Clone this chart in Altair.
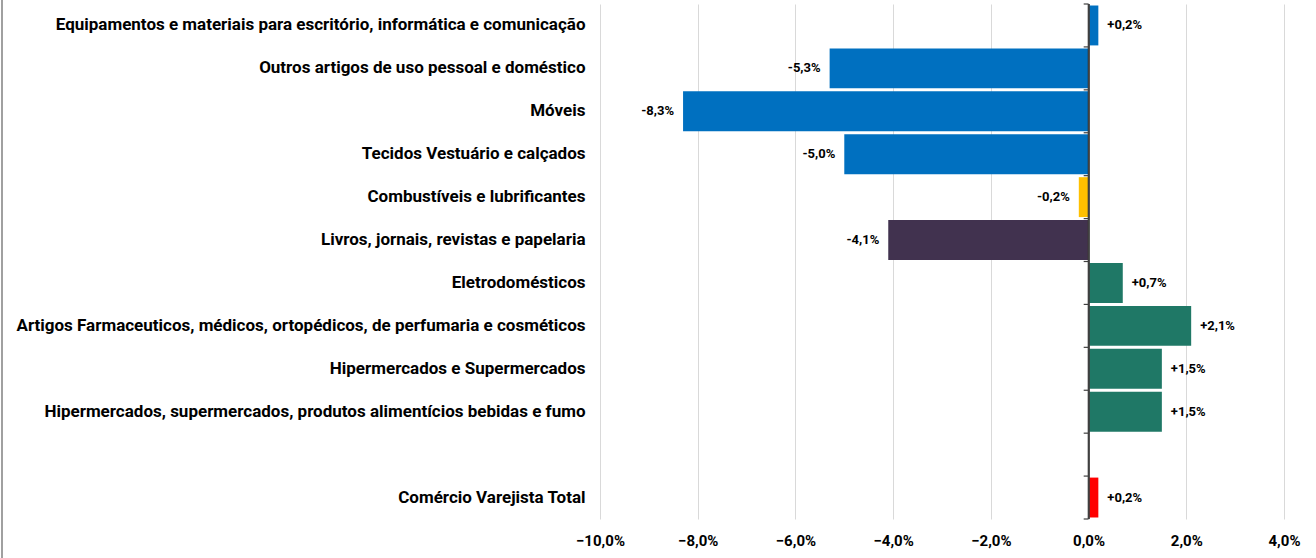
import altair as alt
import pandas as pd

categories = [
    "Equipamentos e materiais para escritório, informática e comunicação",
    "Outros artigos de uso pessoal e doméstico",
    "Móveis",
    "Tecidos Vestuário e calçados",
    "Combustíveis e lubrificantes",
    "Livros, jornais, revistas e papelaria",
    "Eletrodomésticos",
    "Artigos Farmaceuticos, médicos, ortopédicos, de perfumaria e cosméticos",
    "Hipermercados e Supermercados",
    "Hipermercados, supermercados, produtos alimentícios bebidas e fumo",
    "Comércio Varejista Total",
]
values = [0.2, -5.3, -8.3, -5.0, -0.2, -4.1, 0.7, 2.1, 1.5, 1.5, 0.2]
colors = ["#0070C0", "#0070C0", "#0070C0", "#0070C0", "#FFC000", "#41324F",
          "#1F7866", "#1F7866", "#1F7866", "#1F7866", "#FF0000"]
x_ticks = [-10, -8, -6, -4, -2, 0, 2, 4]

blank = " "
y_domain = categories[:10] + [blank] + categories[10:]

df = pd.DataFrame({
    "cat": categories,
    "value": values,
    "color": colors,
    "label": [(f"{v:+.1f}%").replace(".", ",") for v in values],
})
bounds = pd.DataFrame({"cat": y_domain})
last = pd.DataFrame({"cat": [y_domain[-1]]})

xscale = alt.Scale(domain=[-10, 4], nice=False, zero=False)
yscale = alt.Scale(domain=y_domain, paddingInner=0, paddingOuter=0)

X = alt.X("value:Q", scale=xscale, axis=alt.Axis(
    values=x_ticks, grid=True, gridColor="#D9D9D9", gridWidth=1,
    domain=False, ticks=False, title=None, labelFlush=False,
    labelExpr="replace(format(datum.value, '.1f'), '.', ',') + '%'",
    labelFont="Roboto", labelFontWeight="bold", labelFontSize=15,
    labelColor="#000000", labelPadding=14))
Y = alt.Y("cat:N", scale=yscale, sort=y_domain, axis=alt.Axis(
    domain=False, ticks=False, title=None, labelLimit=0,
    labelFont="Roboto", labelFontWeight="bold", labelFontSize=17,
    labelColor="#000000", labelPadding=15))

bars = alt.Chart(df).mark_bar(height={"band": 0.93}).encode(
    x=X, x2=alt.datum(0), y=Y, color=alt.Color("color:N", scale=None))

zero = alt.Chart(df).mark_rule(color="#404040", strokeWidth=1.2).encode(x=alt.X(datum=0, scale=xscale))

ticks_top = alt.Chart(bounds).mark_rule(color="#404040", strokeWidth=1.2).encode(
    x=alt.X(datum=-0.1, scale=xscale), x2=alt.datum(0),
    y=alt.Y("cat:N", scale=yscale, sort=y_domain, bandPosition=0))
ticks_bot = alt.Chart(last).mark_rule(color="#404040", strokeWidth=1.2).encode(
    x=alt.X(datum=-0.1, scale=xscale), x2=alt.datum(0),
    y=alt.Y("cat:N", scale=yscale, sort=y_domain, bandPosition=1))

lab_font = dict(font="Roboto", fontWeight="bold", fontSize=13, color="#000000")
pos_lab = alt.Chart(df).transform_filter("datum.value >= 0").mark_text(
    align="left", baseline="middle", dx=9, **lab_font).encode(x=X, y=Y, text="label:N")
neg_lab = alt.Chart(df).transform_filter("datum.value < 0").mark_text(
    align="right", baseline="middle", dx=-9, **lab_font).encode(x=X, y=Y, text="label:N")

border = alt.Chart(last).mark_rule(color="#808080", strokeWidth=1.5).encode(
    x=alt.value(-598), y=alt.value(-10), y2=alt.value(560))

chart = alt.layer(bars, zero, ticks_top, ticks_bot, pos_lab, neg_lab, border).properties(
    width=684, height=515,
    autosize=alt.AutoSizeParams(type="none"),
    padding={"left": 600, "top": 4, "right": 32, "bottom": 39},
).configure_view(stroke=None)

chart.save("out.html", embed_options={"renderer": "svg", "actions": False})
